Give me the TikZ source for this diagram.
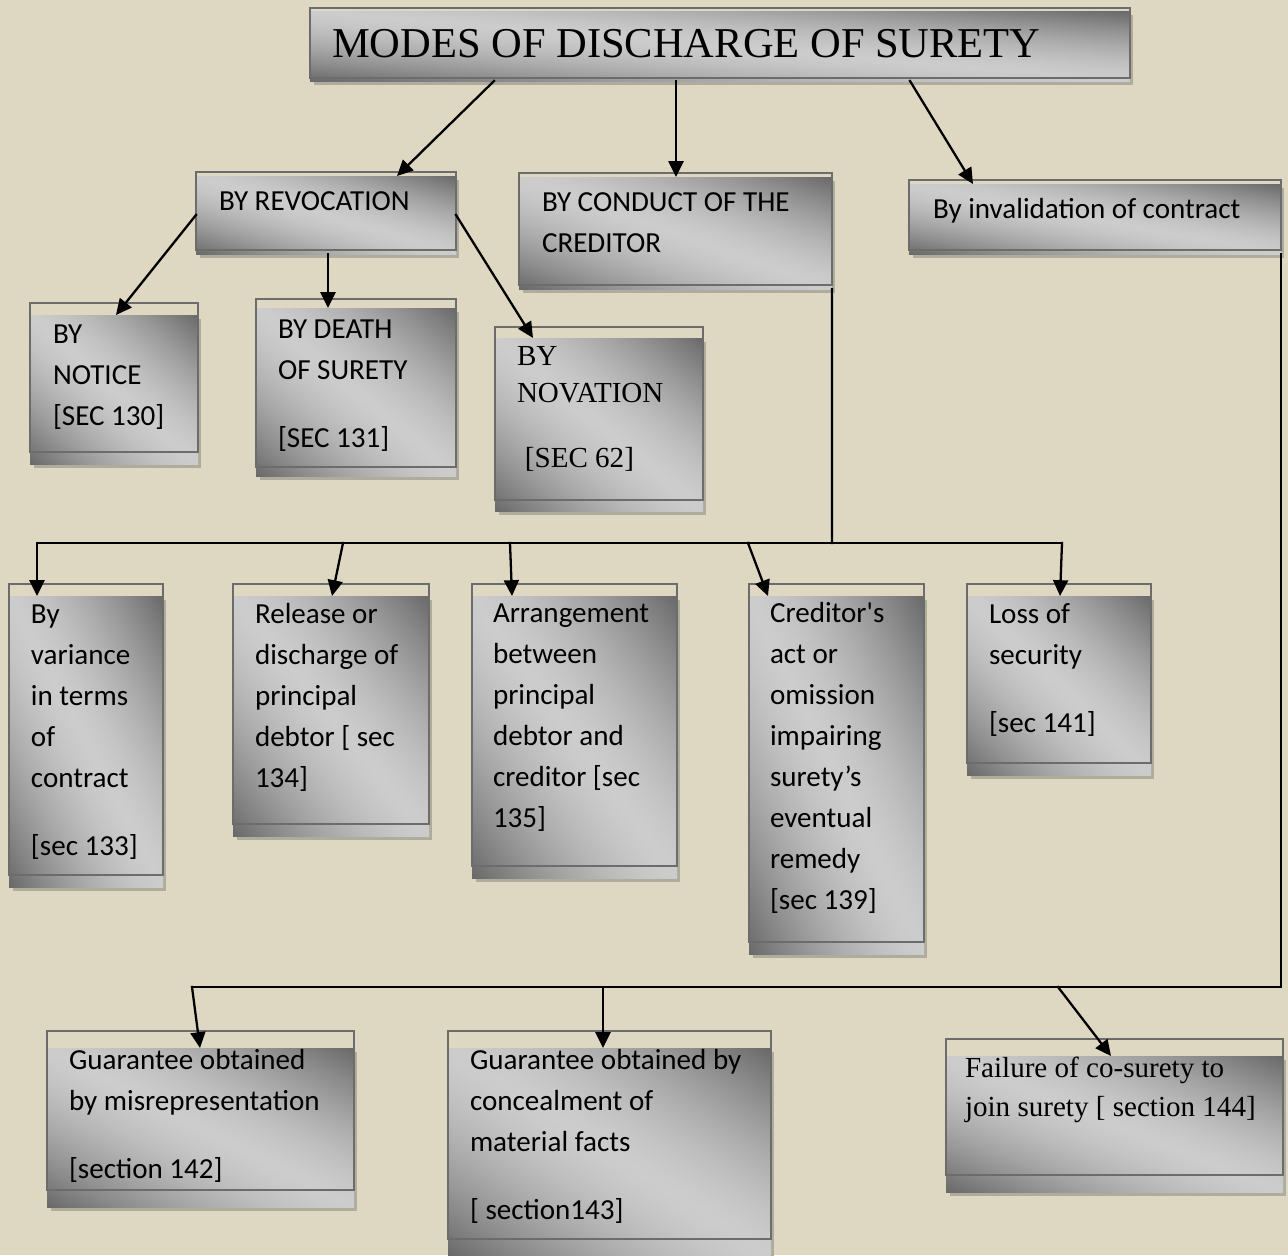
\documentclass[tikz,border=0pt]{standalone}
\usepackage{fontspec}
\setmainfont{Carlito}[Ligatures=TeXOff]
\newfontfamily\tnr{Liberation Serif}[Ligatures=TeXOff]
\usetikzlibrary{arrows.meta,calc,fit}
\definecolor{bg}{RGB}{222,215,194}
\definecolor{shd}{RGB}{176,172,156}
\definecolor{edgec}{RGB}{108,108,108}
% light band from top-left to bottom-right, dark towards bottom-left and top-right corners
\pgfdeclarefunctionalshading{boxsh}{\pgfpoint{-50bp}{-50bp}}{\pgfpoint{50bp}{50bp}}{}{add 50 div abs dup sqrt mul 0.39 mul neg 0.80 add dup dup}
\newcommand\Lb[1]{\hbox{#1}}
\newcommand\gapv{\vskip 15.3pt}
% name, ox1, oy1, ox2, oy2, dy
\newcommand\mkbox[6]{%
  \fill[shd] (#2+4,#3+#6+4) rectangle (#4+3,#5+#6+4);
  \node[fit={(#2,#3+#6) (#4,#5+#6)}, inner sep=0pt, outer sep=0pt, shade, shading=boxsh] (#1) {};
  \draw[edgec, line width=1.5pt] (#2,#3) rectangle (#4,#5);
}
\begin{document}
\begin{tikzpicture}[x=0.02cm,y=-0.02cm,
  wire/.style={line width=1.3pt, black, line cap=rect},
  arrw/.style={wire, -{Triangle[length=9pt,width=8.5pt]}},
  txt/.style={inner sep=0pt, outer sep=0pt, anchor=base west, text=black, font=\fontsize{16.55pt}{23.4pt}\selectfont}]
\useasboundingbox[fill=bg] (0,0) rectangle (1288,1255);

\mkbox{T}{310}{8}{1130}{78}{3}
\mkbox{REV}{196}{172}{456}{250}{4}
\mkbox{CON}{519}{173}{832}{285}{4}
\mkbox{INV}{909}{180}{1281}{250}{4}
\mkbox{NOT}{30}{303}{198}{452}{12}
\mkbox{DEA}{256}{299}{456}{467}{9}
\mkbox{NOV}{495}{327}{703}{500}{11}
\mkbox{V133}{9}{584}{163}{875}{12}
\mkbox{R134}{233}{584}{429}{824}{12}
\mkbox{A135}{472}{584}{677}{866}{12}
\mkbox{C139}{749}{584}{924}{942}{12}
\mkbox{L141}{967}{584}{1151}{763}{12}
\mkbox{G142}{47}{1031}{354}{1190}{17}
\mkbox{G143}{448}{1031}{771}{1239}{17}
\mkbox{F144}{946}{1039}{1283}{1175}{17}

\node[txt, font=\tnr\fontsize{24.2pt}{28pt}\selectfont] (T-t) at (332,57) {MODES OF DISCHARGE OF SURETY};
\node[txt] (REV-t) at (219,210) {BY REVOCATION};
\node[txt] (CON-t) at (542,211) {\vtop{\Lb{BY CONDUCT OF THE}\Lb{CREDITOR}}};
\node[txt] (INV-t) at (933,218) {By invalidation of contract};
\node[txt] (NOT-t) at (53,343) {\vtop{\Lb{BY}\Lb{NOTICE}\Lb{[SEC 130]}}};
\node[txt] (DEA-t) at (278,338) {\vtop{\Lb{BY DEATH}\Lb{OF SURETY}\gapv\Lb{[SEC 131]}}};
\node[txt, font=\tnr\fontsize{16.55pt}{21.5pt}\selectfont] (NOV-t) at (517,365) {\vtop{\Lb{BY}\Lb{NOVATION}\gapv\Lb{\hspace*{4.5pt}[SEC 62]}}};
\node[txt] (V133-t) at (31,623) {\vtop{\Lb{By}\Lb{variance}\Lb{in terms}\Lb{of}\Lb{contract}\gapv\Lb{[sec 133]}}};
\node[txt] (R134-t) at (255,623) {\vtop{\Lb{Release or}\Lb{discharge of}\Lb{principal}\Lb{debtor [ sec}\Lb{134]}}};
\node[txt] (A135-t) at (493,622) {\vtop{\Lb{Arrangement}\Lb{between}\Lb{principal}\Lb{debtor and}\Lb{creditor [sec}\Lb{135]}}};
\node[txt] (C139-t) at (770,622) {\vtop{\Lb{Creditor's}\Lb{act or}\Lb{omission}\Lb{impairing}\Lb{surety’s}\Lb{eventual}\Lb{remedy}\Lb{[sec 139]}}};
\node[txt] (L141-t) at (989,623) {\vtop{\Lb{Loss of}\Lb{security}\gapv\Lb{[sec 141]}}};
\node[txt] (G142-t) at (69,1069) {\vtop{\Lb{Guarantee obtained}\Lb{by misrepresentation}\gapv\Lb{[section 142]}}};
\node[txt] (G143-t) at (470,1069) {\vtop{\Lb{Guarantee obtained by}\Lb{concealment of}\Lb{material facts}\gapv\Lb{[ section143]}}};
\node[txt, font=\tnr\fontsize{16.55pt}{22.7pt}\selectfont] (F144-t) at (965,1077) {\vtop{\Lb{Failure of co-surety to}\Lb{join surety [ section 144]}}};

% top level
\draw[arrw] ($(T.south west)+(184,0)$) -- ($(REV.north west)+(201,0)$);
\draw[arrw] ($(T.south west)+(366,0)$) -- ($(CON.north west)+(157,0)$);
\draw[arrw] ($(T.south west)+(600,0)$) -- ($(INV.north west)+(64,0)$);
% revocation
\draw[arrw] (REV.west) -- ($(NOT.north west)+(86,0)$);
\draw[arrw] ($(REV.south west)+(132,0)$) -- ($(DEA.north west)+(72,0)$);
\draw[arrw] (REV.east) -- ($(NOV.north west)+(38,0)$);
% conduct of creditor bus
\coordinate (b1) at (832,543);
\coordinate (b1L) at (37,543);
\coordinate (b1R) at (1062,543);
\coordinate (b1a) at (343,543);
\coordinate (b1b) at (510,543);
\coordinate (b1c) at (748,543);
\draw[wire] (CON.south east) -- (b1);
\draw[wire] (b1L) -- (b1R);
\draw[arrw] (b1L) -- ($(V133.north west)+(28,0)$);
\draw[arrw] (b1a) -- ($(R134.north west)+(99,0)$);
\draw[arrw] (b1b) -- ($(A135.north west)+(40,0)$);
\draw[arrw] (b1c) -- ($(C139.north west)+(19,0)$);
\draw[arrw] (b1R) -- ($(L141.north west)+(93,0)$);
% invalidation bus
\coordinate (b2R) at (1281,987);
\coordinate (b2L) at (192,987);
\coordinate (b2a) at (603,987);
\coordinate (b2b) at (1058,987);
\draw[wire] (INV.south east) -- (b2R) -- (b2L);
\draw[arrw] (b2L) -- ($(G142.north west)+(153,0)$);
\draw[arrw] (b2a) -- ($(G143.north west)+(155,0)$);
\draw[arrw] (b2b) -- ($(F144.north west)+(165,0)$);
\end{tikzpicture}
\end{document}
